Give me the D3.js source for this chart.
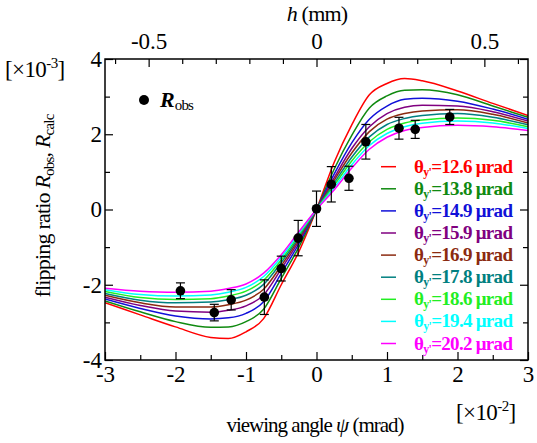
<!DOCTYPE html>
<html><head><meta charset="utf-8">
<script src="https://cdn.jsdelivr.net/npm/d3@7"></script>
<style>
html,body{margin:0;padding:0;background:#fff;}
svg, svg text, svg tspan{font-family:"Liberation Serif","Times New Roman",Times,serif !important;}
</style></head>
<body>
<svg id="chart" width="537" height="443" font-family="Liberation Serif"></svg>
<script>
// ---- data ----
const angles = [-3,-2.5,-2,-1.5,-1.25,-1,-0.75,-0.5,-0.25,0,0.25,0.5,0.75,1,1.25,1.5,2,2.5,3];
const calc126 = [-2.48,-2.8,-3.12,-3.4,-3.43,-3.25,-2.9,-2.0,-1.12,0,1.25,2.25,3.05,3.35,3.48,3.42,3.15,2.82,2.5];
const calc138 = [-2.43,-2.72,-2.98,-3.13,-3.12,-2.98,-2.65,-1.83,-1.0,0,1.07,1.97,2.7,3.02,3.17,3.18,3.05,2.75,2.45];
const calc149 = [-2.38,-2.63,-2.83,-2.91,-2.88,-2.76,-2.45,-1.7,-0.91,0,0.94,1.77,2.4,2.75,2.93,2.96,2.88,2.67,2.4];
const calc159 = [-2.33,-2.55,-2.7,-2.73,-2.68,-2.56,-2.27,-1.58,-0.84,0,0.84,1.62,2.2,2.55,2.72,2.77,2.75,2.6,2.35];
const calc169 = [-2.28,-2.48,-2.59,-2.59,-2.53,-2.41,-2.12,-1.49,-0.78,0,0.77,1.5,2.07,2.4,2.55,2.62,2.65,2.53,2.3];
const calc178 = [-2.23,-2.41,-2.48,-2.46,-2.4,-2.28,-1.99,-1.41,-0.73,0,0.7,1.39,1.93,2.26,2.42,2.5,2.55,2.45,2.25];
const calc186 = [-2.18,-2.34,-2.39,-2.37,-2.3,-2.17,-1.88,-1.34,-0.68,0,0.64,1.29,1.8,2.13,2.3,2.38,2.43,2.37,2.2];
const calc194 = [-2.13,-2.26,-2.3,-2.27,-2.2,-2.07,-1.78,-1.27,-0.63,0,0.58,1.19,1.7,2.02,2.2,2.29,2.35,2.3,2.15];
const calc202 = [-2.09,-2.17,-2.2,-2.17,-2.1,-1.98,-1.69,-1.2,-0.59,0,0.52,1.1,1.6,1.92,2.1,2.18,2.24,2.2,2.1];
const thetaLabels = ["12.6","13.8","14.9","15.9","16.9","17.8","18.6","19.4","20.2"];
const seriesColors = ["#ff0000","#108a10","#1010d8","#800080","#8b2a10","#008080","#22ee22","#00ffff","#ff00ff"];

const obsAngle = [-1.93,-1.45,-1.21,-0.74,-0.50,-0.26,0.0,0.21,0.46,0.70,1.17,1.40,1.89];
const obsR     = [-2.16,-2.74,-2.40,-2.33,-1.57,-0.76,0.02,0.67,0.83,1.80,2.16,2.13,2.46];
const obsErr   = [0.21,0.22,0.27,0.46,0.33,0.47,0.47,0.47,0.32,0.46,0.29,0.24,0.20];

const xMajor = [-3,-2,-1,0,1,2,3];
const xMinor = [-2.5,-1.5,-0.5,0.5,1.5,2.5];
const yMajor = [-4,-2,0,2,4];
const yMinor = [-3,-1,1,3];
const hMajor = [-0.5,0,0.5];
const hMinor = [-0.6,-0.4,-0.3,-0.2,-0.1,0.1,0.2,0.3,0.4,0.6];

// ---- chart ----
const svg = d3.select("#chart");
const L=105, R=528, T=59, B=360;
const x = d3.scaleLinear().domain([-3,3]).range([L,R]);
const xh = d3.scaleLinear().domain([-0.63,0.63]).range([L,R]);
const y = d3.scaleLinear().domain([-4,4]).range([B,T]);
const fmt = d => String(d);

function styleAxis(g){
  g.attr("font-family",null).attr("font-size",null);
  g.select(".domain").remove();
  g.selectAll("line").attr("stroke","#000").attr("stroke-width",1.2);
  g.selectAll("text").attr("font-size",23).attr("fill","#000");
}

svg.append("g").attr("transform",`translate(0,${B})`).call(d3.axisBottom(x).tickValues(xMajor).tickFormat(fmt).tickSizeInner(-8).tickSizeOuter(0).tickPadding(6)).call(styleAxis);
svg.append("g").attr("transform",`translate(0,${B})`).call(d3.axisBottom(x).tickValues(xMinor).tickFormat("").tickSizeInner(-5).tickSizeOuter(0)).call(styleAxis);
svg.append("g").attr("transform",`translate(0,${T})`).call(d3.axisTop(xh).tickValues(hMajor).tickFormat(fmt).tickSizeInner(-8).tickSizeOuter(0).tickPadding(10)).call(styleAxis);
svg.append("g").attr("transform",`translate(0,${T})`).call(d3.axisTop(xh).tickValues(hMinor).tickFormat("").tickSizeInner(-5).tickSizeOuter(0)).call(styleAxis);
svg.append("g").attr("transform",`translate(${L},0)`).call(d3.axisLeft(y).tickValues(yMajor).tickFormat(fmt).tickSizeInner(-8).tickSizeOuter(0).tickPadding(3)).call(styleAxis);
svg.append("g").attr("transform",`translate(${L},0)`).call(d3.axisLeft(y).tickValues(yMinor).tickFormat("").tickSizeInner(-5).tickSizeOuter(0)).call(styleAxis);
svg.append("g").attr("transform",`translate(${R},0)`).call(d3.axisRight(y).tickValues(yMajor).tickFormat("").tickSizeInner(-8).tickSizeOuter(0)).call(styleAxis);
svg.append("g").attr("transform",`translate(${R},0)`).call(d3.axisRight(y).tickValues(yMinor).tickFormat("").tickSizeInner(-5).tickSizeOuter(0)).call(styleAxis);

// curves
const allCalc = [calc126,calc138,calc149,calc159,calc169,calc178,calc186,calc194,calc202];
const line = d3.line().x((d,i)=>x(angles[i])).y(d=>y(d)).curve(d3.curveMonotoneX);
svg.append("clipPath").attr("id","clip").append("rect").attr("x",L).attr("y",T).attr("width",R-L).attr("height",B-T);
const cg = svg.append("g").attr("clip-path","url(#clip)");
allCalc.forEach((arr,k)=>{
  cg.append("path").attr("d",line(arr)).attr("fill","none").attr("stroke",seriesColors[k]).attr("stroke-width",1.5);
});

// observed points
const og = svg.append("g");
obsAngle.forEach((a,i)=>{
  const cx=x(a), y1=y(obsR[i]-obsErr[i]), y2=y(obsR[i]+obsErr[i]);
  og.append("line").attr("x1",cx).attr("x2",cx).attr("y1",y1).attr("y2",y2).attr("stroke","#000").attr("stroke-width",1.2);
  og.append("line").attr("x1",cx-4.5).attr("x2",cx+4.5).attr("y1",y1).attr("y2",y1).attr("stroke","#000").attr("stroke-width",1.2);
  og.append("line").attr("x1",cx-4.5).attr("x2",cx+4.5).attr("y1",y2).attr("y2",y2).attr("stroke","#000").attr("stroke-width",1.2);
  og.append("circle").attr("cx",cx).attr("cy",y(obsR[i])).attr("r",4.8).attr("fill","#000");
});

// frame
svg.append("rect").attr("x",L).attr("y",T).attr("width",R-L).attr("height",B-T).attr("fill","none").attr("stroke","#000").attr("stroke-width",1.5);

// legend: observed
svg.append("circle").attr("cx",144).attr("cy",100).attr("r",5).attr("fill","#000");
const lt = svg.append("text").attr("x",160).attr("y",107).attr("font-size",22);
lt.append("tspan").attr("font-weight","bold").attr("font-style","italic").text("R");
lt.append("tspan").attr("font-size",15).attr("dy",3).attr("letter-spacing",-0.8).text("obs");

// legend: calc series
thetaLabels.forEach((t,k)=>{
  const yy = 166.7 + k*22.1;
  svg.append("line").attr("x1",381).attr("x2",396).attr("y1",yy).attr("y2",yy).attr("stroke",seriesColors[k]).attr("stroke-width",1.5);
  const tx = svg.append("text").attr("x",414).attr("y",yy+6).attr("font-size",19).attr("font-weight","bold").attr("letter-spacing",-0.7).attr("fill",seriesColors[k]);
  tx.append("tspan").text("θ");
  tx.append("tspan").attr("font-size",12).attr("dy",3).text("y'");
  tx.append("tspan").attr("dy",-3).text("=" + t + " μrad");
});

// axis titles
const ht = svg.append("text").attr("x",317).attr("y",21).attr("text-anchor","middle").attr("font-size",22).attr("letter-spacing",-0.8);
ht.append("tspan").attr("font-style","italic").text("h");
ht.append("tspan").text(" (mm)");

const u3 = svg.append("text").attr("x",5).attr("y",77).attr("font-size",23).attr("letter-spacing",-0.6);
u3.append("tspan").text("[×10");
u3.append("tspan").attr("font-size",15).attr("dy",-9).text("-3");
u3.append("tspan").attr("dy",9).text("]");

const u2 = svg.append("text").attr("x",456).attr("y",420).attr("font-size",23).attr("letter-spacing",-0.6);
u2.append("tspan").text("[×10");
u2.append("tspan").attr("font-size",15).attr("dy",-9).text("-2");
u2.append("tspan").attr("dy",9).text("]");

const xt = svg.append("text").attr("x",315).attr("y",432).attr("text-anchor","middle").attr("font-size",21).attr("letter-spacing",-1);
xt.append("tspan").text("viewing angle ");
xt.append("tspan").attr("font-style","italic").text("ψ");
xt.append("tspan").text(" (mrad)");

const yt = svg.append("text").attr("transform","translate(50,206) rotate(-90)").attr("text-anchor","middle").attr("font-size",22).attr("letter-spacing",-0.8);
yt.append("tspan").text("flipping ratio     ");
yt.append("tspan").attr("font-style","italic").text("R");
yt.append("tspan").attr("font-size",15).attr("dy",4).text("obs");
yt.append("tspan").attr("dy",-4).text(", ");
yt.append("tspan").attr("font-style","italic").text("R");
yt.append("tspan").attr("font-size",15).attr("dy",4).text("calc");
</script>
</body></html>
